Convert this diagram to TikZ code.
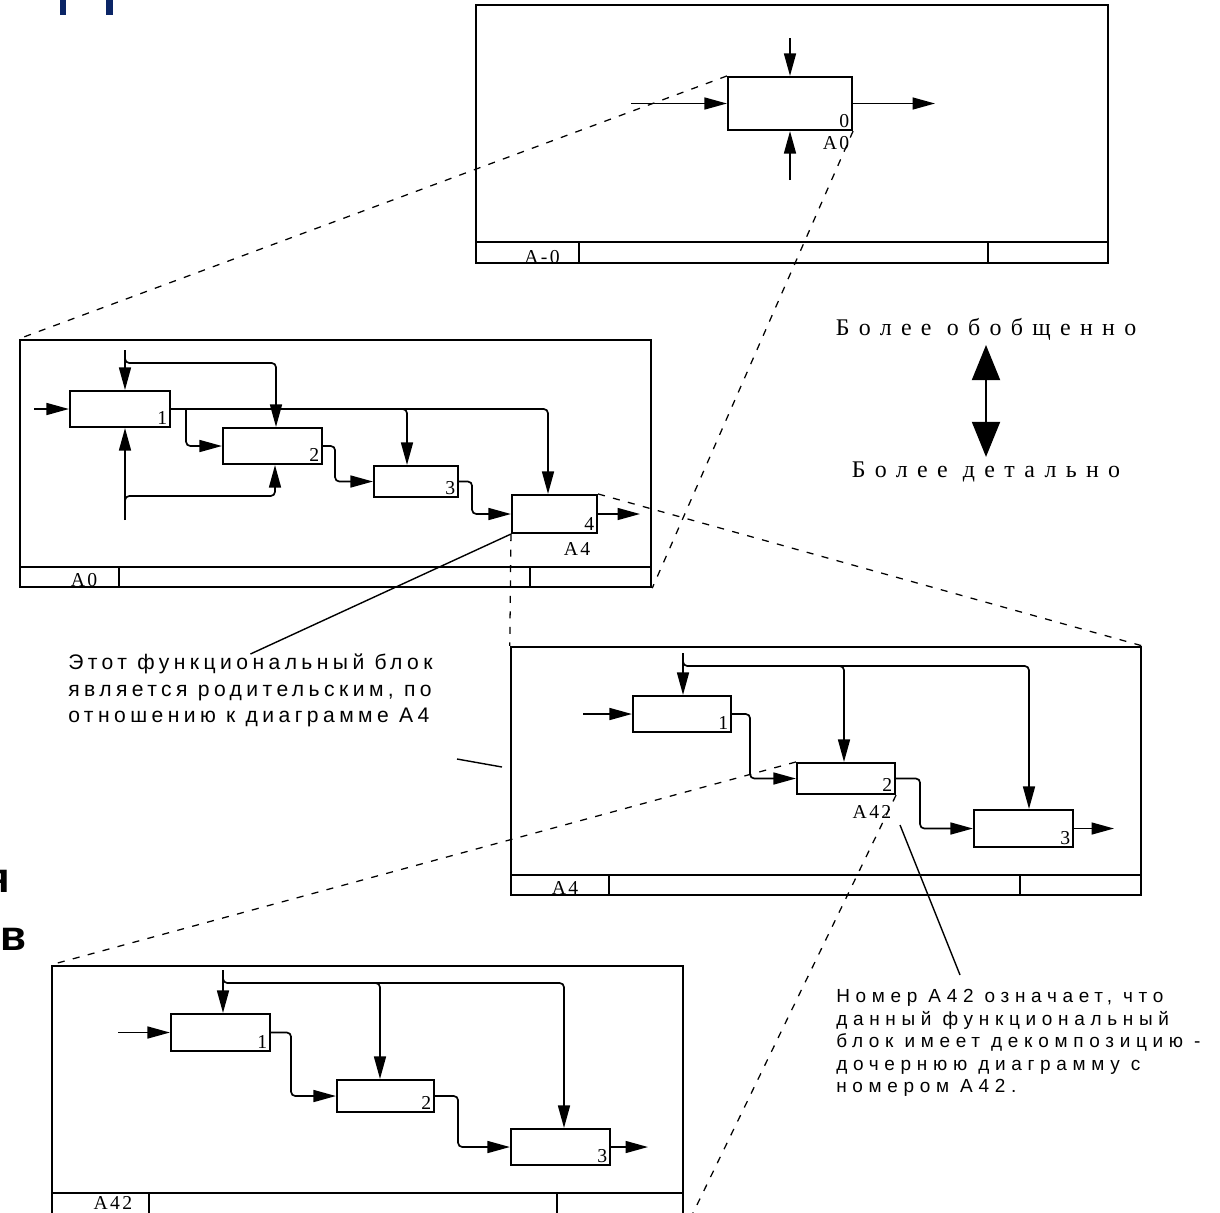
\documentclass[tikz,border=0pt]{standalone}
\usepackage{fontspec}
\setmainfont{Liberation Serif}
\newfontfamily\lblfont{Liberation Serif}[LetterSpace=12]
\newfontfamily\capfont{Liberation Serif}[LetterSpace=39]
\newfontfamily\notefont{Liberation Sans}[LetterSpace=21]
\newfontfamily\notefontb{Liberation Sans}[LetterSpace=30]
\newfontfamily\cutfont{Liberation Sans}
\usepackage{tikz}
\usetikzlibrary{arrows.meta,positioning}
\definecolor{ttl}{HTML}{0B2566}

\begin{document}
\begin{tikzpicture}[x=0.025cm, y=-0.025cm,
  frame/.style={draw, line width=1.6pt, inner sep=0pt},
  tab/.style={line width=1.4pt},
  fbox/.style={draw, line width=1.5pt, inner sep=0pt, fill=white},
  num/.style={font=\lblfont\fontsize{14}{15}\selectfont, inner sep=2.5pt},
  arr/.style={-{Triangle[length=16pt,width=8.5pt]}, line width=1.2pt},
  rc/.style={rounded corners=3pt},
  link/.style={dash pattern=on 5pt off 6pt, line width=0.9pt},
  lead/.style={line width=1pt},
  big/.style={{Triangle[length=25pt,width=20pt]}-{Triangle[length=25pt,width=20pt]}, line width=1.3pt},
  note/.style={align=left, inner sep=0pt, anchor=north west},
  cut/.style={inner sep=0pt, anchor=base east, font=\cutfont\bfseries\fontsize{30}{30}\selectfont}]
\useasboundingbox (0,0) rectangle (1220,1212);

% remains of the slide title and text
\fill[ttl] (60,0) rectangle (66,15);
\fill[ttl] (106,0) rectangle (113,15);
\node[cut] (ya) at (10,892) {я};
\node[cut] (vo) at (27,950) {ов};

% frames
\node[frame, minimum width=15.8cm, minimum height=6.45cm] (ftop) at (792,134) {};
\node[frame, minimum width=15.775cm, minimum height=6.175cm] (fA0) at (335.5,463.5) {};
\node[frame, minimum width=15.75cm, minimum height=6.2cm] (fA4) at (826,771) {};
\node[frame, minimum width=15.775cm, minimum height=6.6cm] (fA42) at (367.5,1098) {};
\draw[tab] (476,242) -- (1108,242) (579,242) -- (579,263) (988,242) -- (988,263);
\draw[tab] (20,567) -- (651,567) (119,567) -- (119,587) (530,567) -- (530,587);
\draw[tab] (511,875) -- (1141,875) (609,875) -- (609,895) (1020,875) -- (1020,895);
\draw[tab] (52,1193) -- (683,1193) (149,1193) -- (149,1230) (557,1193) -- (557,1230);
\node[num, anchor=base] (ltop) at (542,263) {A-0};
\node[num, anchor=base] (lA0) at (84,586) {A0};
\node[num, anchor=base] (lA4) at (565,894) {A4};
\node[num, anchor=base] (lA42) at (113,1209) {A42};

% A-0
\node[fbox, minimum width=3.1cm, minimum height=1.325cm] (p0) at (790,103.5) {};
\node[num, anchor=south east] (p0n) at (p0.south east) {0};
\node[num] (p0id) at (836,143) {A0};
\coordinate (p0c) at (790,38);
\coordinate (p0m) at (790,180);
\coordinate (p0i) at (631,103.5);
\coordinate (p0o) at (935,103.5);
\draw[arr] (p0c) -- (p0.north);
\draw[arr] (p0m) -- (p0.south);
\draw[arr] (p0i) -- (p0.west);
\draw[arr] (p0.east) -- (p0o);

% A0
\node[fbox, minimum width=2.5cm, minimum height=0.9cm] (a1) at (120,409) {};
\node[fbox, minimum width=2.475cm, minimum height=0.9cm] (a2) at (272.5,446) {};
\node[fbox, minimum width=2.1cm, minimum height=0.775cm] (a3) at (416,481.5) {};
\node[fbox, minimum width=2.125cm, minimum height=0.95cm] (a4) at (554.5,514) {};
\node[num, anchor=south east] (a1n) at (a1.south east) {1};
\node[num, anchor=south east] (a2n) at (a2.south east) {2};
\node[num, anchor=south east] (a3n) at (a3.south east) {3};
\node[num, anchor=south east] (a4n) at (a4.south east) {4};
\node[num] (a4id) at (577,549) {A4};
\coordinate (a0c) at (125,350);
\coordinate (a0m) at (125,520);
\coordinate (a0i) at (34,409);
\coordinate (a0o) at (640,514);
\coordinate (a0k) at (276,363);
\coordinate (a0g) at (275,496);
\coordinate (a0t) at (407,409);
\coordinate (a0u) at (548,409);
\draw[arr] (a0c) -- (a0c |- a1.north);
\draw[arr] (a0m) -- (a0m |- a1.south);
\draw[arr] (a0i) -- (a1.west);
\draw[arr, rc] (a0c) ++(0,8) |- (a0k) -- (a0k |- a2.north);
\draw[arr, rc] (a0m) ++(0,-16) |- (a0g) -- (a0g |- a2.south);
\draw[arr, rc] (a1.east) -| (a0u |- a4.north);
\draw[arr, rc] (a0t) ++(-10,0) -| (a0t |- a3.north);
\draw[arr, rc] (a1.east) ++(15,0) |- (a2.west);
\draw[arr, rc] (a2.east) -- ++(12,0) |- (a3.west);
\draw[arr, rc] (a3.east) -- ++(13,0) |- (a4.west);
\draw[arr] (a4.east) -- (a0o);

% A4
\node[fbox, minimum width=2.45cm, minimum height=0.9cm] (b1) at (682,714) {};
\node[fbox, minimum width=2.45cm, minimum height=0.775cm] (b2) at (846,778.5) {};
\node[fbox, minimum width=2.475cm, minimum height=0.925cm] (b3) at (1023.5,828.5) {};
\node[num, anchor=south east] (b1n) at (b1.south east) {1};
\node[num, anchor=south east] (b2n) at (b2.south east) {2};
\node[num, anchor=south east] (b3n) at (b3.south east) {3};
\node[num] (b2id) at (872,812) {A42};
\coordinate (b0c) at (683,653);
\coordinate (b0i) at (583,714);
\coordinate (b0o) at (1114,828.5);
\coordinate (b0k) at (844,666);
\coordinate (b0l) at (1029,666);
\draw[arr] (b0c) -- (b0c |- b1.north);
\draw[arr] (b0i) -- (b1.west);
\draw[arr, rc] (b0c) ++(0,8) |- (b0l) -- (b0l |- b3.north);
\draw[arr, rc] (b0k) ++(-10,0) -| (b0k |- b2.north);
\draw[arr, rc] (b1.east) -- ++(18,0) |- (b2.west);
\draw[arr, rc] (b2.east) -- ++(24,0) |- (b3.west);
\draw[arr] (b3.east) -- (b0o);

% A42
\node[fbox, minimum width=2.475cm, minimum height=0.925cm] (c1) at (220.5,1032.5) {};
\node[fbox, minimum width=2.425cm, minimum height=0.8cm] (c2) at (385.5,1096) {};
\node[fbox, minimum width=2.475cm, minimum height=0.9cm] (c3) at (560.5,1147) {};
\node[num, anchor=south east] (c1n) at (c1.south east) {1};
\node[num, anchor=south east] (c2n) at (c2.south east) {2};
\node[num, anchor=south east] (c3n) at (c3.south east) {3};
\coordinate (c0c) at (223,970);
\coordinate (c0i) at (118,1032.5);
\coordinate (c0o) at (648,1147);
\coordinate (c0k) at (380,983);
\coordinate (c0l) at (564,983);
\draw[arr] (c0c) -- (c0c |- c1.north);
\draw[arr] (c0i) -- (c1.west);
\draw[arr, rc] (c0c) ++(0,8) |- (c0l) -- (c0l |- c3.north);
\draw[arr, rc] (c0k) ++(-10,0) -| (c0k |- c2.north);
\draw[arr, rc] (c1.east) -- ++(20,0) |- (c2.west);
\draw[arr, rc] (c2.east) -- ++(23,0) |- (c3.west);
\draw[arr] (c3.east) -- (c0o);

% decomposition links
\draw[link] (p0.north west) -- (fA0.north west);
\draw[link] (p0.south east) -- (fA0.south east);
\draw[link] (a4.south west) -- (fA4.north west);
\draw[link] (a4.north east) -- (fA4.north east);
\draw[link] (b2.north west) -- (fA42.north west);
\draw[link] (b2.south east) -- (fA42.south east);

% notes
\node[note, font=\notefont\fontsize{15}{18.8}\selectfont] (n1) at (68,654)
  {Этот функциональный блок\\является родительским, по\\отношению к диаграмме A4};
\node[note, font=\notefontb\fontsize{13.5}{16}\selectfont] (n2) at (836,989)
  {Номер A42 означает, что\\данный функциональный\\блок имеет декомпозицию -\\дочернюю диаграмму с\\номером A42.};
\coordinate (st1) at (457,759);
\coordinate (st2) at (502,767);
\coordinate (ld1) at (900,825);
\coordinate (ld2) at (960,975);
\draw[lead] (n1.north) -- (a4.south west);
\draw[lead] (st1) -- (st2);
\draw[lead] (ld1) -- (ld2);

% level arrow
\node[font=\capfont\fontsize{17}{19}\selectfont] (more) at (986,329) {Более обобщенно};
\node[font=\capfont\fontsize{17}{19}\selectfont] (less) at (986,472) {Более детально};
\draw[big] (more) -- (less);
\end{tikzpicture}
\end{document}
